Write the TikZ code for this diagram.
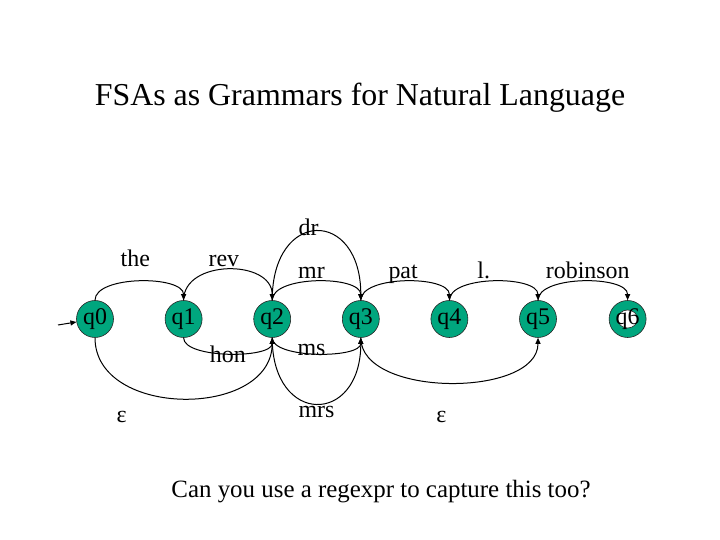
\documentclass[tikz,border=0pt]{standalone}
\usepackage{fontspec}
\setmainfont{Liberation Serif}
\usetikzlibrary{positioning, arrows.meta, calc}
\definecolor{stategreen}{RGB}{0,166,126}

\begin{document}
\begin{tikzpicture}[
  x=1bp, y=1bp,
  font=\fontsize{24}{28}\selectfont,
  node distance=52bp,
  >={Triangle[length=6bp, width=5bp]},
  state/.style={circle, draw=black!85, line width=0.6bp, fill=stategreen, minimum size=37bp, inner sep=0pt},
  final/.style={state, path picture={\draw[line width=0.6bp, fill=white] (path picture bounding box.center) ellipse (10bp and 9bp);}},
  lbl/.style={anchor=base, inner sep=0pt},
  trans/.style={->, line width=1bp},
]
\useasboundingbox (0,0) rectangle (720,540);

% ================= title =================
\node[font=\fontsize{32}{38}\selectfont, anchor=base] (title) at (360,434)
  {FSAs as Grammars for Natural Language};

% ================= states =================
\node[state] (q0) at (95,221) {q0};
\node[state, right=51bp of q0] (q1) {q1};
\node[state, right=51bp of q1] (q2) {q2};
\node[state, right=51bp of q2] (q3) {q3};
\node[state, right=51bp of q3] (q4) {q4};
\node[state, right=51bp of q4] (q5) {q5};
\node[final, right=52bp of q5] (q6) {q6};

\coordinate (start) at ($(q0)+(-37,-6)$);
\draw[trans] (start) -- (q0);

% ================= transitions above =================
\draw[trans] (q0.north) .. controls +(0,25) and +(0,25) .. node[lbl, xshift=-4bp, yshift=15bp] {the} (q1.north);
\draw[trans] (q1.north) .. controls +(0,41) and +(0,41) .. node[lbl, xshift=-4bp, yshift=3bp] {rev} (q2.north);
\draw[trans] (q2.north) .. controls +(0,92) and +(0,92) .. node[lbl, xshift=-8bp, yshift=-4bp] {dr} (q3.north);
\draw[trans] (q2.north) .. controls +(0,25) and +(0,25) .. node[lbl, xshift=-5bp, yshift=3bp] {mr} (q3.north);
\draw[trans] (q3.north) .. controls +(0,25) and +(0,25) .. node[lbl, xshift=-2bp, yshift=3bp] {pat} (q4.north);
\draw[trans] (q4.north) .. controls +(0,25) and +(0,25) .. node[lbl, xshift=-10bp, yshift=3bp] {l.} (q5.north);
\draw[trans] (q5.north) .. controls +(0,25) and +(0,25) .. node[lbl, xshift=5bp, yshift=3bp] {robinson} (q6.north);

% ================= transitions below =================
\draw[trans] (q1.south) .. controls +(0,-21) and +(0,-21) .. node[lbl, yshift=-9bp] {hon} (q2.south);
\draw[trans] (q2.south) .. controls +(0,-21) and +(0,-21) .. node[lbl, xshift=-5bp, yshift=-2bp] {ms} (q3.south);
\draw[trans] (q2.south) .. controls +(0,-88) and +(0,-88) .. node[lbl, yshift=-14bp] {mrs} (q3.south);
\draw[trans] (q0.south) .. controls +(0,-81) and +(0,-81) .. node[lbl, xshift=-62bp, yshift=-24bp] {ε} (q2.south);
\draw[trans] (q3.south) .. controls +(0,-60) and +(0,-60) .. node[lbl, xshift=-8bp, yshift=-40bp] {ε} (q5.south);

% ================= question =================
\node[font=\fontsize{25}{30}\selectfont, anchor=base] (question) at (381,42) {Can you use a regexpr to capture this too?};

\end{tikzpicture}
\end{document}
